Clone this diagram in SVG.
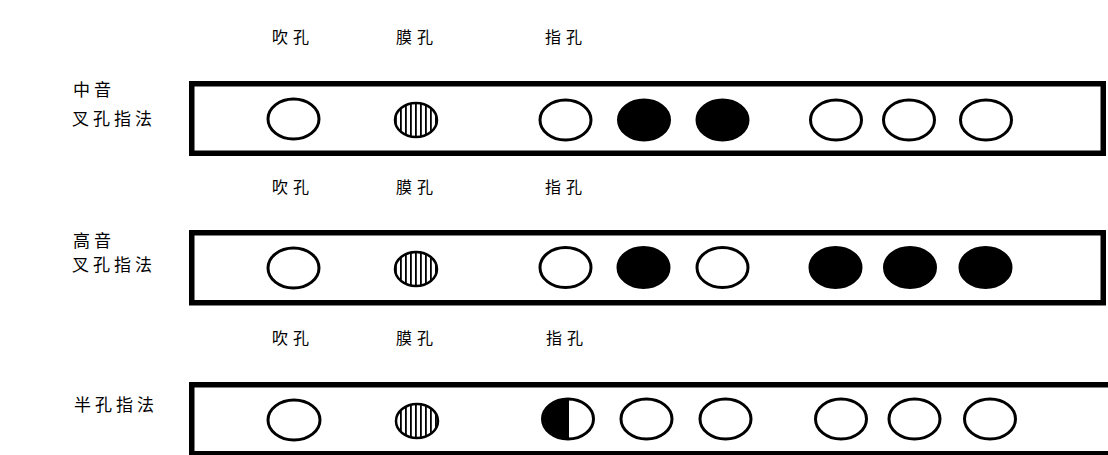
<svg xmlns="http://www.w3.org/2000/svg" width="1108" height="455" viewBox="0 0 1108 455">
  <style>
    .t { font-family: "Noto Sans CJK SC", "Noto Sans CJK JP", sans-serif; font-size: 16px; letter-spacing: 5px; fill: #000; }
    .lbl { font-family: "Noto Sans CJK SC", "Noto Sans CJK JP", sans-serif; font-size: 17px; letter-spacing: 4px; fill: #000; }
    .tube { fill: #fff; stroke: #000; stroke-width: 5.5; }
    .open { fill: #fff; stroke: #000; stroke-width: 3; }
    .closed { fill: #000; stroke: #000; stroke-width: 3; }
    .rim { fill: none; stroke: #000; stroke-width: 3; }
    .mem { fill: url(#stripes); stroke: #000; stroke-width: 2.5; }
  </style>
  <defs>
    <pattern id="stripes" patternUnits="userSpaceOnUse" width="5" height="10">
      <rect width="5" height="10" fill="#fff"/>
      <rect x="0" width="1.8" height="10" fill="#000"/>
    </pattern>
  </defs>
  <rect width="1108" height="455" fill="#fff"/>

  <!-- Row 1: 中音 叉孔指法 -->
  <g id="row1">
    <text class="t" x="272" y="43">吹孔</text>
    <text class="t" x="396" y="43">膜孔</text>
    <text class="t" x="545" y="43">指孔</text>
    <text class="lbl" x="73" y="96">中音</text>
    <text class="lbl" x="72" y="125">叉孔指法</text>
    <rect class="tube" x="191.75" y="83.75" width="911.5" height="69.5"/>
    <ellipse class="open" cx="293.5" cy="119" rx="25.5" ry="20"/>
    <ellipse class="mem" cx="416" cy="120" rx="21" ry="17"/>
    <ellipse class="open" cx="565.5" cy="120" rx="25.5" ry="20"/>
    <ellipse class="closed" cx="644" cy="120" rx="25.5" ry="20"/>
    <ellipse class="closed" cx="722.5" cy="120" rx="25.5" ry="20"/>
    <ellipse class="open" cx="836" cy="120" rx="25.5" ry="20"/>
    <ellipse class="open" cx="909" cy="120" rx="25.5" ry="20"/>
    <ellipse class="open" cx="986" cy="120" rx="25.5" ry="20"/>
  </g>

  <!-- Row 2: 高音 叉孔指法 -->
  <g id="row2">
    <text class="t" x="272" y="193">吹孔</text>
    <text class="t" x="396" y="193">膜孔</text>
    <text class="t" x="545" y="193">指孔</text>
    <text class="lbl" x="73" y="247">高音</text>
    <text class="lbl" x="72" y="271">叉孔指法</text>
    <rect class="tube" x="191.75" y="232.75" width="911.5" height="70"/>
    <ellipse class="open" cx="293.5" cy="268" rx="25.5" ry="20"/>
    <ellipse class="mem" cx="416" cy="269" rx="21" ry="17"/>
    <ellipse class="open" cx="565.5" cy="267.5" rx="25.5" ry="20"/>
    <ellipse class="closed" cx="643.5" cy="267.5" rx="25.5" ry="20"/>
    <ellipse class="open" cx="722.5" cy="267.5" rx="25.5" ry="20"/>
    <ellipse class="closed" cx="835.5" cy="267.5" rx="25.5" ry="20"/>
    <ellipse class="closed" cx="910" cy="267.5" rx="25.5" ry="20"/>
    <ellipse class="closed" cx="985.5" cy="267.5" rx="25.5" ry="20"/>
  </g>

  <!-- Row 3: 半孔指法 -->
  <g id="row3">
    <text class="t" x="272" y="344">吹孔</text>
    <text class="t" x="396" y="344">膜孔</text>
    <text class="t" x="546" y="344">指孔</text>
    <text class="lbl" x="74" y="411">半孔指法</text>
    <rect class="tube" x="191.75" y="384.75" width="925" height="69"/>
    <ellipse class="open" cx="294" cy="420" rx="26" ry="20"/>
    <ellipse class="mem" cx="417" cy="421" rx="21" ry="17"/>
    <g id="half-hole">
      <ellipse cx="568" cy="419" rx="25.5" ry="20" fill="#fff"/>
      <path d="M569 399 A25.5 20 0 0 0 569 439 Z" fill="#000"/>
      <ellipse class="rim" cx="568" cy="419" rx="25.5" ry="20"/>
    </g>
    <ellipse class="open" cx="646.5" cy="419" rx="25.5" ry="20"/>
    <ellipse class="open" cx="725.5" cy="419" rx="25.5" ry="20"/>
    <ellipse class="open" cx="841" cy="419" rx="25.5" ry="20"/>
    <ellipse class="open" cx="914.5" cy="419" rx="25.5" ry="20"/>
    <ellipse class="open" cx="990" cy="419" rx="25.5" ry="20"/>
  </g>

  <g id="connectors"/>
</svg>
